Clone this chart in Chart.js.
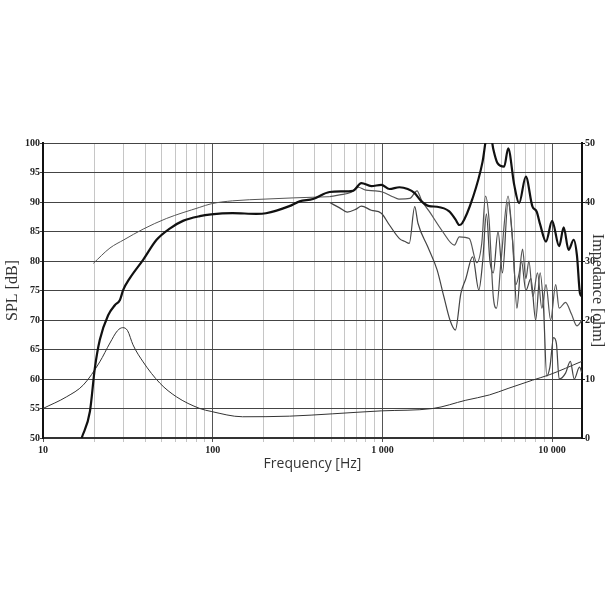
<!DOCTYPE html>
<html>
<head>
<meta charset="utf-8">
<script src="https://cdn.jsdelivr.net/npm/chart.js@4/dist/chart.umd.min.js"></script>
<style>
html,body{margin:0;padding:0;background:#fff;}
canvas{display:block;}
</style>
</head>
<body>
<canvas id="c" width="610" height="610"></canvas>
<script>
// ---- Data ----
const xTickValues = [10,20,30,40,50,60,70,80,90,100,200,300,400,500,600,700,800,900,1000,2000,3000,4000,5000,6000,7000,8000,9000,10000];
const xTickLabels = {10:'10',100:'100',1000:'1 000',10000:'10 000'};

// On-axis SPL (thick black)
const onAxisFreq = [16.9,18.9,20.2,21.6,24.2,26.5,28.4,29.7,32.5,38.9,46.7,55.8,66.8,83.9,98,131,181,206,283,325,390,488,580,670,752,860,985,1100,1260,1410,1550,1700,1889,2100,2477,2700,2838,2950,3398,3890,4100,4300,4500,4766,5220,5510,5980,6390,7000,7660,8100,8500,9200,10000,11000,11700,12500,13400,14000,14600,15000];
const onAxisSPL  = [50,54.5,61.8,66.6,70.8,72.5,73.4,75.1,77.1,80.2,83.6,85.5,86.8,87.6,87.9,88.1,88.0,88.1,89.3,90.1,90.5,91.7,91.8,91.9,93.2,92.7,92.9,92.2,92.5,92.2,91.5,90.1,89.3,89.2,88.4,87.0,86.1,86.4,90.6,96.8,101,102,99,96.6,96.0,99.1,92.9,89.8,94.3,89.2,88.4,86.2,83.3,86.8,82.5,85.7,81.9,83.6,81,74.5,74];

// Simulated response (thin grey, low frequencies)
const simFreq = [19.8,24.8,30,38.9,53.3,83.9,98,131,206,300,490];
const simSPL  = [79.6,82.2,83.6,85.4,87.2,89.1,89.7,90.2,90.5,90.7,90.9];

// 30 degree off-axis
const off30Freq = [490,560,650,720,800,900,1000,1150,1250,1450,1600,1700,1889,2263,2655,2838,3250,3600,3850,4050,4250,4500,4700,5000,5500,5800,6100,6400,6700,7000,7300,7700,8200,8700,9200,9800,10500,11000,12000,13000,14000,15000];
const off30SPL  = [90.9,91.2,91.6,92.5,92.0,91.9,91.7,90.9,90.5,90.6,91.9,90.3,88.4,85.0,82.7,84.1,83.8,79.7,83,91,87,74,72,80,91,85,76,78,82,77,80,74,78,72,76,70,76,72,73,71,69,70];

// 60 degree off-axis
const off60Freq = [490,560,620,700,752,860,985,1100,1260,1360,1440,1550,1620,1850,2100,2300,2500,2690,2900,3100,3400,3700,3900,4100,4300,4500,4800,5100,5500,5900,6200,6600,7000,7500,8000,8500,8900,9300,9700,10200,10600,11000,12000,12800,13500,14500,15000];
const off60SPL  = [89.9,89.0,88.3,88.8,89.3,88.6,88.1,86.1,83.8,83.3,83.0,89.2,86.4,82.4,78.5,74,70,68.3,74.5,77,80.7,75.1,80,88,80,78,85,78,90,82,72,80,75,77,70,78,72,60.5,62,67,66,60,61,63,60,62,61];

// Impedance (ohm, right axis)
const impFreq = [10,13.8,17.3,21.6,24.8,27.5,29.5,31.5,33.9,38.9,48.8,61,84,98,150,283,510,985,1980,3100,4270,5500,7660,9600,15000];
const impOhm  = [5.0,7.0,9.0,12.9,16.1,18.2,18.7,18.2,15.8,12.9,9.3,7.0,5.0,4.5,3.6,3.7,4.1,4.6,5.0,6.4,7.3,8.4,9.8,10.7,13.0];

const yLeftTitle = 'SPL [dB]';
const yRightTitle = 'Impedance [ohm]';
const xTitle = 'Frequency [Hz]';

function pts(f, v){ return f.map((x,i)=>({x:x, y:v[i]})); }

const tickFont = {family:'Liberation Serif', size:10, weight:'bold'};

new Chart(document.getElementById('c'), {
  type: 'line',
  data: {
    datasets: [
      {label:'On axis', data:pts(onAxisFreq,onAxisSPL), borderColor:'#111', borderWidth:2.2, pointRadius:0, cubicInterpolationMode:'monotone', yAxisID:'y'},
      {label:'Simulated', data:pts(simFreq,simSPL), borderColor:'#555', borderWidth:1, pointRadius:0, cubicInterpolationMode:'monotone', yAxisID:'y'},
      {label:'30°', data:pts(off30Freq,off30SPL), borderColor:'#555', borderWidth:1.2, pointRadius:0, cubicInterpolationMode:'monotone', yAxisID:'y'},
      {label:'60°', data:pts(off60Freq,off60SPL), borderColor:'#444', borderWidth:1.2, pointRadius:0, cubicInterpolationMode:'monotone', yAxisID:'y'},
      {label:'Impedance', data:pts(impFreq,impOhm), borderColor:'#333', borderWidth:1, pointRadius:0, cubicInterpolationMode:'monotone', yAxisID:'y2'}
    ]
  },
  options: {
    responsive:false,
    animation:false,
    events:[],
    layout:{padding:{left:3,right:3,top:143,bottom:138}},
    plugins:{legend:{display:false}, tooltip:{enabled:false}},
    scales:{
      x:{
        type:'logarithmic', position:'bottom', min:10, max:15000,
        afterBuildTicks: s => { s.ticks = xTickValues.map(v=>({value:v})); },
        afterFit: s => { s.height = 34; },
        ticks:{autoSkip:false, maxRotation:0, minRotation:0, padding:2, color:'#222', font:tickFont,
          callback: v => xTickLabels[v] || ''},
        grid:{color: c => (xTickLabels[c.tick && c.tick.value] ? '#555' : '#c6c6c6'), lineWidth:1, tickLength:4, drawTicks:true},
        border:{display:true, color:'#333', width:2},
        title:{display:true, text:xTitle, color:'#333', font:{family:'Open Sans', size:14}, padding:0}
      },
      y:{
        position:'left', min:50, max:100,
        afterBuildTicks: s => { const t=[]; for(let v=50; v<=100; v+=5) t.push({value:v}); s.ticks=t; },
        afterFit: s => { s.width = 40; },
        ticks:{padding:0, color:'#222', font:tickFont},
        grid:{color:'#444', lineWidth:1, tickLength:3},
        border:{display:true, color:'#111', width:2},
        title:{display:true, text:yLeftTitle, color:'#333', font:{family:'Liberation Serif', size:16}, padding:0}
      },
      y2:{
        position:'right', min:0, max:50,
        afterBuildTicks: s => { const t=[]; for(let v=0; v<=50; v+=10) t.push({value:v}); s.ticks=t; },
        afterFit: s => { s.width = 25; },
        ticks:{padding:0, color:'#222', font:tickFont},
        grid:{drawOnChartArea:false, color:'#111', tickLength:3},
        border:{display:true, color:'#111', width:2},
        title:{display:true, text:yRightTitle, color:'#333', font:{family:'Liberation Serif', size:16}, padding:0}
      }
    }
  }
});
</script>
</body>
</html>
